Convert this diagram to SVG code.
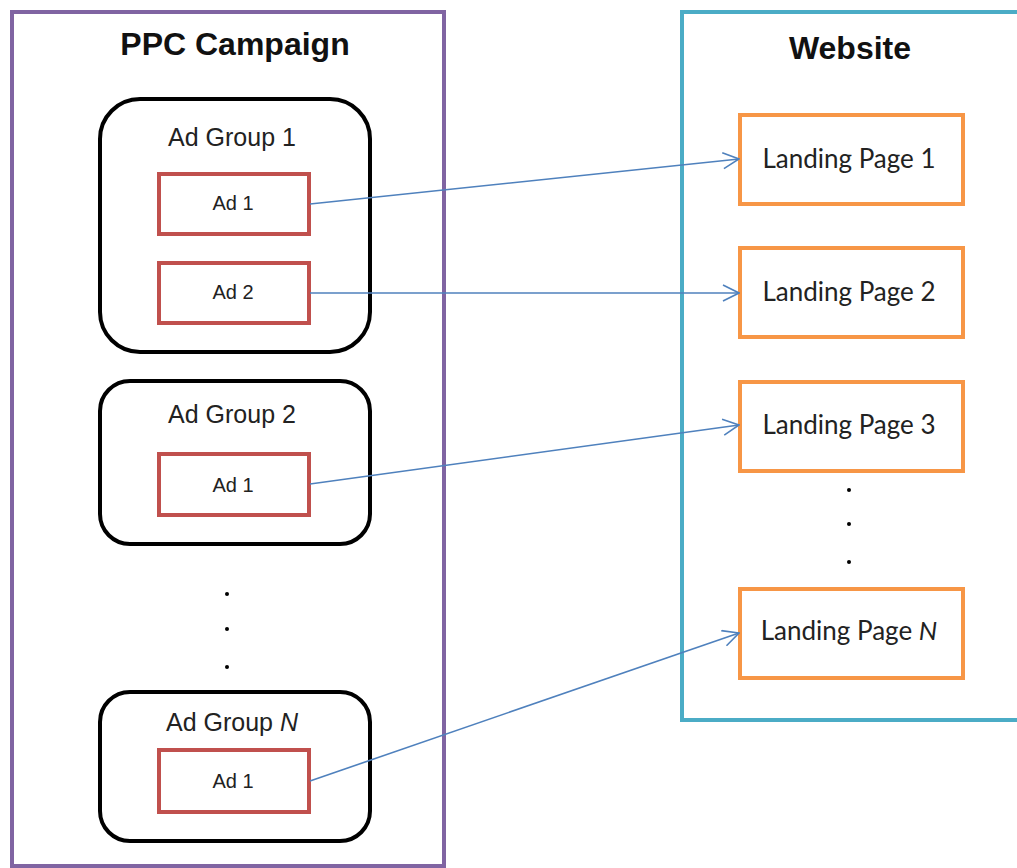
<svg xmlns="http://www.w3.org/2000/svg" width="1017" height="868" viewBox="0 0 1017 868">
<defs>
<style>
.title{font-family:"Liberation Sans",Arial,sans-serif;font-weight:bold;font-size:32px;fill:#111;text-anchor:middle}
.grp{fill:#fff;stroke:#000;stroke-width:4}
.grptxt{font-family:"Liberation Sans",Arial,sans-serif;font-size:25px;fill:#222;text-anchor:middle}
.ad{fill:#fff;stroke:#C0504D;stroke-width:4}
.adtxt{font-family:"Liberation Sans",Arial,sans-serif;font-size:20px;fill:#222;text-anchor:middle}
.lp{fill:#fff;stroke:#F79646;stroke-width:4}
.lptxt{font-family:Lato,"Open Sans",sans-serif;font-size:26px;fill:#222;text-anchor:middle}
.conn{stroke:#4F81BD;stroke-width:1.6;fill:none;marker-end:url(#arr)}
.dot{fill:#000}
</style>
<marker id="arr" markerUnits="userSpaceOnUse" viewBox="0 0 18 18" markerWidth="18" markerHeight="18" refX="17" refY="9" orient="auto">
<path d="M1,1 L17,9 L1,17" fill="none" stroke="#4F81BD" stroke-width="1.6"/>
</marker>
</defs>
<rect width="1017" height="868" fill="#fff"/>
<g id="ppc-campaign">
<rect x="12" y="12" width="432" height="854" fill="none" stroke="#8064A2" stroke-width="4"/>
<text class="title" x="235" y="55">PPC Campaign</text>
</g>
<g id="website">
<rect x="682" y="12" width="360" height="708" fill="none" stroke="#4BACC6" stroke-width="4"/>
<text class="title" x="850" y="59">Website</text>
</g>
<g id="ad-group-1">
<rect class="grp" x="100" y="99" width="270" height="253" rx="40"/>
<text class="grptxt" x="232" y="146">Ad Group 1</text>
</g>
<g id="ag1-ad1">
<rect class="ad" x="159" y="174" width="150" height="60"/>
<text class="adtxt" x="233" y="210">Ad 1</text>
</g>
<g id="ag1-ad2">
<rect class="ad" x="159" y="263" width="150" height="60"/>
<text class="adtxt" x="233" y="299">Ad 2</text>
</g>
<g id="ad-group-2">
<rect class="grp" x="100" y="381" width="270" height="163" rx="30"/>
<text class="grptxt" x="232" y="423">Ad Group 2</text>
</g>
<g id="ag2-ad1">
<rect class="ad" x="159" y="454" width="150" height="61"/>
<text class="adtxt" x="233" y="492">Ad 1</text>
</g>
<g id="ad-dots">
<circle class="dot" cx="227" cy="594" r="2"/>
<circle class="dot" cx="227" cy="629" r="2"/>
<circle class="dot" cx="227" cy="667" r="2"/>
</g>
<g id="ad-group-n">
<rect class="grp" x="100" y="692" width="270" height="149" rx="30"/>
<text class="grptxt" x="232" y="731">Ad Group <tspan font-style="italic">N</tspan></text>
</g>
<g id="agn-ad1">
<rect class="ad" x="159" y="750" width="150" height="62"/>
<text class="adtxt" x="233" y="788">Ad 1</text>
</g>
<g id="landing-page-1">
<rect class="lp" x="740" y="115" width="223" height="89"/>
<text class="lptxt" x="849" y="168">Landing Page 1</text>
</g>
<g id="landing-page-2">
<rect class="lp" x="740" y="248" width="223" height="89"/>
<text class="lptxt" x="849" y="301">Landing Page 2</text>
</g>
<g id="landing-page-3">
<rect class="lp" x="740" y="382" width="223" height="89"/>
<text class="lptxt" x="849" y="434">Landing Page 3</text>
</g>
<g id="lp-dots">
<circle class="dot" cx="849" cy="490" r="2"/>
<circle class="dot" cx="849" cy="524" r="2"/>
<circle class="dot" cx="849" cy="562" r="2"/>
</g>
<g id="landing-page-n">
<rect class="lp" x="740" y="589" width="223" height="89"/>
<text class="lptxt" x="849" y="640">Landing Page <tspan font-style="italic">N</tspan></text>
</g>
<g id="connectors">
<line class="conn" x1="310" y1="204" x2="739" y2="159"/>
<line class="conn" x1="310" y1="293" x2="739" y2="293"/>
<line class="conn" x1="310" y1="484" x2="739" y2="425"/>
<line class="conn" x1="310" y1="781" x2="739" y2="633"/>
</g>
</svg>
